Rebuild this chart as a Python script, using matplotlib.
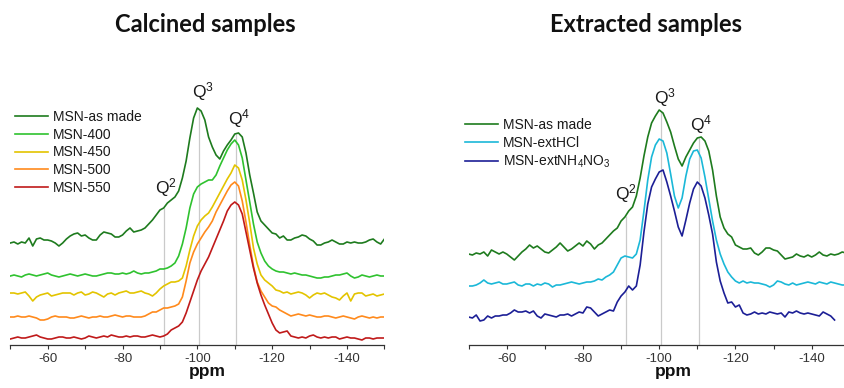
import numpy as np
import matplotlib
matplotlib.use("Agg")
import matplotlib.pyplot as plt

plt.rcParams["font.family"] = ["Liberation Sans", "DejaVu Sans"]
plt.rcParams["mathtext.default"] = "regular"
plt.rcParams["axes.unicode_minus"] = False

# 29Si chemical shift grid, 1 ppm steps from -50 to -150
PPM = -np.arange(50, 151)

# intensities above each trace's own baseline (arbitrary units)
CAL_AS_MADE = [0, 1, -1, 1, 0, 5, -3, 4, 5, 3,
               3, 2, 0, -3, 0, 4, 7, 9, 10, 7,
               8, 5, 3, 3, 8, 11, 10, 9, 6, 6,
               8, 12, 15, 11, 12, 13, 15, 19, 23, 28,
               33, 35, 40, 43, 46, 52, 65, 82, 105, 125,
               135, 132, 123, 106, 96, 88, 84, 92, 98, 103,
               109, 110, 106, 90, 68, 50, 31, 22, 18, 14,
               10, 9, 5, 7, 3, 3, 5, 6, 8, 7,
               4, 2, -2, -2, 0, 1, 3, 1, -1, -1,
               1, 0, 1, 0, 0, 1, 3, 4, 1, -1,
               4]
CAL_400 = [0, 1, 0, -1, 1, 2, 1, 0, 1, 2,
           3, 1, 0, -1, 0, 1, 2, 1, 0, 1,
           2, 1, 0, 0, 1, 2, 3, 3, 2, 2,
           3, 2, 3, 5, 3, 2, 3, 3, 4, 5,
           7, 7, 8, 10, 13, 20, 32, 48, 68, 82,
           89, 92, 94, 96, 96, 101, 110, 118, 126, 132,
           136, 131, 118, 96, 74, 52, 34, 23, 15, 10,
           7, 5, 4, 4, 3, 2, 3, 2, 1, 1,
           0, -1, -2, -2, -1, -1, 0, 1, 1, 2,
           3, 0, -2, -1, 1, 0, -1, 0, 1, 0,
           0]
CAL_450 = [0, 0, -1, 0, 1, -3, -8, -4, -2, -1,
           0, -3, -2, -1, 0, 0, 0, -2, 0, 1,
           -2, -1, 1, 0, -2, -4, -1, 0, -2, 0,
           1, 2, 0, 0, 1, 2, 0, -1, -3, 0,
           4, 7, 9, 11, 11, 12, 15, 27, 43, 57,
           67, 73, 77, 80, 86, 93, 100, 107, 114, 120,
           128, 125, 113, 93, 70, 45, 29, 18, 13, 10,
           7, 3, 2, 0, 1, -1, 0, 1, 0, -2,
           -5, -2, 0, -1, 0, -2, -4, -5, -7, -3,
           0, -8, -1, 0, 0, -3, -2, -1, -3, -2,
           -1]
CAL_500 = [0, 0, 1, 0, 0, 1, 0, -1, -3, -3,
           -2, 0, 1, 0, 0, 0, -1, -1, 0, 1,
           0, -1, 0, 0, 1, 0, 0, 1, 2, 1,
           0, 1, 1, 0, 0, 0, 1, 3, 5, 5,
           7, 9, 9, 10, 11, 13, 20, 36, 54, 65,
           73, 79, 85, 90, 96, 105, 112, 119, 126, 132,
           135, 131, 116, 95, 72, 51, 35, 26, 20, 14,
           11, 10, 7, 5, 3, 1, 2, 3, 2, 1,
           2, 1, 0, 0, 1, 1, 0, -1, 0, 1,
           0, -1, -2, 0, 1, 0, -1, 0, -1, 0,
           0]
CAL_550 = [-1, 0, 1, 0, 0, 1, 2, 3, 1, 0,
           -1, -1, 0, 1, 1, 0, 0, 1, 0, -1,
           0, 2, 1, 0, 1, 2, 1, 3, 2, 1,
           1, 2, 1, 2, 2, 1, 1, 2, 3, 2,
           1, 2, 4, 8, 10, 12, 16, 25, 36, 47,
           58, 67, 74, 81, 90, 99, 108, 117, 127, 133,
           136, 133, 124, 106, 88, 70, 55, 43, 33, 24,
           15, 8, 5, 6, 7, 2, 1, 0, 1, 0,
           2, 3, 1, 0, 1, 0, 1, 1, -1, 0,
           1, 0, 0, -1, -2, 0, 0, -1, 0, 0,
           0]

EXT_AS_MADE = [0, -1, 1, 0, 2, -2, 4, 2, 0, 2,
               0, -3, -6, -2, 2, 5, 9, 6, 8, 5,
               2, 1, 4, 7, 11, 7, 3, 5, 8, 11,
               8, 13, 10, 5, 9, 11, 15, 19, 23, 26,
               33, 37, 43, 47, 58, 76, 98, 117, 131, 138,
               144, 141, 132, 122, 108, 95, 88, 97, 104, 111,
               116, 117, 113, 103, 84, 58, 37, 26, 20, 17,
               9, 7, 5, 5, 6, 1, -1, 2, 6, 6,
               4, 3, -1, -5, -4, -3, 0, -2, -3, -1,
               -3, -1, 2, -1, -2, 0, -1, 0, 2, 1,
               0]
EXT_HCL = [0, 0, 1, 3, 6, 3, 2, 3, 4, 2,
           2, 3, 4, 1, 0, 2, 2, 0, 2, 1,
           3, 2, -1, 1, 1, 2, 3, 4, 3, 2,
           3, 4, 4, 5, 7, 6, 9, 11, 14, 21,
           28, 30, 29, 28, 32, 46, 75, 106, 129, 141,
           147, 145, 133, 112, 90, 78, 88, 110, 127, 135,
           136, 128, 109, 87, 65, 46, 32, 22, 14, 9,
           5, 3, 5, 3, 4, 3, 3, 2, 1, -1,
           1, 5, 4, 2, 1, 3, 1, 2, 3, 4,
           3, 2, 4, 3, 2, 4, 3, 2, 1, 1,
           1]
# this acquisition stops at -146 ppm
EXT_NH4NO3 = [0, -1, 2, -4, -3, 1, -1, 1, 1, 2,
              2, 4, 7, 5, 5, 6, 4, 6, 1, -1,
              3, 2, 1, 0, 2, 2, 3, 1, 3, 5,
              4, 10, 9, 5, 1, 3, 5, 7, 6, 15,
              21, 25, 31, 27, 31, 52, 85, 113, 130, 138,
              145, 147, 135, 121, 106, 90, 81, 97, 114, 128,
              135, 131, 119, 102, 83, 55, 36, 24, 14, 15,
              10, 12, 4, 2, 3, 5, 3, 4, 3, 5,
              4, 3, 4, 0, 5, 4, 6, 4, 3, 4,
              3, 2, 1, 5, 3, 1, -3]

CAL_LABELS = ["MSN-as made", "MSN-400", "MSN-450", "MSN-500", "MSN-550"]
CAL_COLORS = ["#1e7b1e", "#2fc22f", "#e3c400", "#ff8a1c", "#c01a1a"]
CAL_OFFSETS = [102, 69, 52, 28, 7]

EXT_LABELS = ["MSN-as made", "MSN-extHCl", "MSN-extNH$_4$NO$_3$"]
EXT_COLORS = ["#1e7b1e", "#1bb8d8", "#1c1f96"]
EXT_OFFSETS = [91, 59, 28]

# Q2, Q3, Q4 reference shifts
CAL_Q = [-91.0, -100.4, -110.4]
EXT_Q = [-91.2, -100.6, -110.4]

W, H = 845, 388


def plot_stack(ax, traces, labels, colors, offsets, q_shifts, q_text, legend_xy):
    for vals, lab, col, off in zip(traces, labels, colors, offsets):
        x = PPM[:len(vals)]
        ax.plot(x, np.asarray(vals) + off, color=col, lw=1.2, label=lab, zorder=3)

    ref = np.asarray(traces[0]) + offsets[0]
    for q in q_shifts:
        top = np.interp(-q, -PPM[:len(ref)], ref)
        ax.vlines(q, 0, top, color="#cacaca", lw=0.9, zorder=1)
    for (qx, qy), n in zip(q_text, (2, 3, 4)):
        ax.text(qx, qy, f"Q$^{n}$", ha="center", va="center", fontsize=12.5, color="#1a1a1a")

    ax.set_xlim(-50, -150)
    ax.set_ylim(0, 265)
    for side in ("top", "left", "right"):
        ax.spines[side].set_visible(False)
    ax.spines["bottom"].set_color("#333333")
    ax.spines["bottom"].set_linewidth(0.9)
    ax.set_yticks([])
    ax.set_xticks(np.arange(-60, -141, -20))
    ax.set_xticks(np.arange(-50, -151, -20), minor=True)
    ax.tick_params(axis="x", which="both", direction="out", length=3, width=0.8,
                   color="#333333", labelsize=9.5, labelcolor="#333333", pad=3)
    ax.patch.set_alpha(0)

    ax.legend(loc="upper left", bbox_to_anchor=legend_xy, frameon=False, fontsize=10,
              handlelength=2.4, handletextpad=0.3, labelspacing=0.28,
              borderpad=0, borderaxespad=0, labelcolor="#1a1a1a")


fig = plt.figure(figsize=(W / 100, H / 100), dpi=100)
ax_cal = fig.add_axes([10.3 / W, 43 / H, 374.1 / W, 265 / H])
ax_ext = fig.add_axes([468.6 / W, 43 / H, 381.2 / W, 265 / H])

plot_stack(ax_cal, [CAL_AS_MADE, CAL_400, CAL_450, CAL_500, CAL_550],
           CAL_LABELS, CAL_COLORS, CAL_OFFSETS, CAL_Q,
           [(-91.6, 157), (-101.5, 253), (-111.1, 226)], (0.0126, 0.888))
plot_stack(ax_ext, [EXT_AS_MADE, EXT_HCL, EXT_NH4NO3],
           EXT_LABELS, EXT_COLORS, EXT_OFFSETS, EXT_Q,
           [(-91.3, 151), (-101.5, 247), (-111.1, 220)], (-0.0094, 0.858))

title_kw = dict(family=["Lato", "DejaVu Sans"], fontweight="bold", fontsize=17,
                ha="center", va="center", color="#111111")
fig.text(205 / W, 1 - 24 / H, "Calcined samples", **title_kw)
fig.text(646 / W, 1 - 24 / H, "Extracted samples", **title_kw)

xlab_kw = dict(fontweight="bold", fontsize=12.5, ha="center", va="baseline", color="#111111")
fig.text(207 / W, 1 - 376 / H, "ppm", **xlab_kw)
fig.text(673 / W, 1 - 376 / H, "ppm", **xlab_kw)

fig.savefig("out.png", dpi=100)
